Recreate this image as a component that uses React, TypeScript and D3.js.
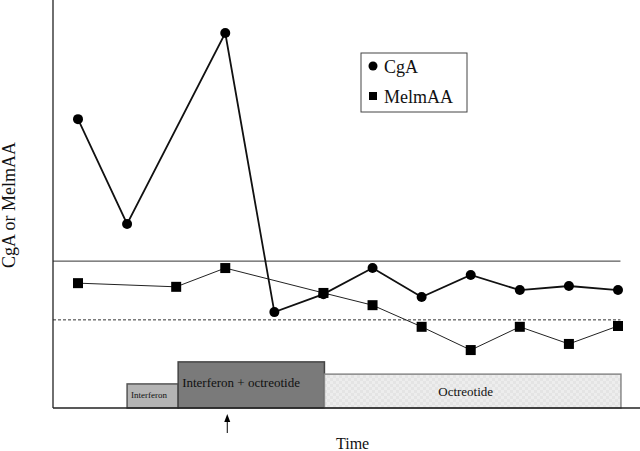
import React from "react";
import * as d3 from "d3";

const timePoints = [0, 1, 2, 3, 4, 5, 6, 7, 8, 9, 10, 11];
const cgaValues: (number | null)[] = [70.8, 45.1, null, 91.9, 23.5, 27.9, 34.3, 27.2, 32.6, 28.9, 29.9, 28.9];
const melmaaValues: (number | null)[] = [30.6, null, 29.7, 34.3, null, 28.2, 25.2, 19.9, 14.2, 19.9, 15.7, 20.1];
const upperRef = 36.0;
const lowerRef = 21.6;
const treatments = [
  { label: "Interferon", start: 1, end: 2.04, height: 5.9 },
  { label: "Interferon + octreotide", start: 2.04, end: 5.02, height: 11.3 },
  { label: "Octreotide", start: 5.02, end: 11.06, height: 8.3 },
];
const arrowAt = 3;
const legendLabels = ["CgA", "MelmAA"];
const xTitle = "Time";
const yTitle = "CgA or MelmAA";

const W = 640;
const H = 451;
const axisLeft = 53;
const axisBottom = 408;

export default function App() {
  const x = d3.scaleLinear().domain([0, 11]).range([78, 618]);
  const y = d3.scaleLinear().domain([0, 100]).range([axisBottom, 0]);

  const line = d3
    .line<[number, number | null]>()
    .defined((d) => d[1] !== null)
    .x((d) => x(d[0]))
    .y((d) => y(d[1] as number));

  const cgaPts = timePoints.map((t, i) => [t, cgaValues[i]] as [number, number | null]).filter((d) => d[1] !== null);
  const melPts = timePoints.map((t, i) => [t, melmaaValues[i]] as [number, number | null]).filter((d) => d[1] !== null);

  const fills = ["#b4b4b4", "#7a7a7a", "url(#checker)"];
  const strokes = ["#555", "#444", "#888"];
  const fontSizes = [9, 13, 13];
  const serif = "'Liberation Serif', 'Times New Roman', serif";

  return (
    <svg width={W} height={H} style={{ position: "absolute", left: 0, top: 0, background: "#fff" }} fontFamily={serif}>
      <defs>
        <pattern id="checker" width="6" height="6" patternUnits="userSpaceOnUse">
          <rect width="6" height="6" fill="#ededed" />
          <rect width="3" height="3" fill="#e4e4e4" />
          <rect x="3" y="3" width="3" height="3" fill="#e4e4e4" />
        </pattern>
      </defs>
      <rect width={W} height={H} fill="#fff" />

      {/* treatment bars */}
      {treatments.map((t, i) => (
        <g key={t.label}>
          <rect
            x={x(t.start)}
            y={y(t.height)}
            width={x(t.end) - x(t.start)}
            height={axisBottom - y(t.height)}
            fill={fills[i]}
            stroke={strokes[i]}
            strokeWidth={1.5}
          />
          <text
            x={i === 0 ? x(t.start) + 4 : i === 1 ? x(t.start) + 4 : (x(t.start) + x(t.end)) / 2 - 7}
            y={i === 0 ? axisBottom - 10 : i === 1 ? y(t.height) + 25 : (y(t.height) + axisBottom) / 2 + 5}
            fontSize={fontSizes[i]}
            textAnchor={i === 2 ? "middle" : "start"}
            fill="#111"
          >
            {t.label}
          </text>
        </g>
      ))}

      {/* reference lines */}
      <line x1={axisLeft} x2={x(11.05)} y1={y(upperRef)} y2={y(upperRef)} stroke="#333" strokeWidth={1} />
      <line x1={axisLeft} x2={x(11.05)} y1={y(lowerRef)} y2={y(lowerRef)} stroke="#333" strokeWidth={1} strokeDasharray="3,2" />

      {/* axes */}
      <line x1={axisLeft} x2={axisLeft} y1={0} y2={axisBottom} stroke="#222" strokeWidth={1.3} />
      <line x1={axisLeft} x2={W} y1={axisBottom} y2={axisBottom} stroke="#222" strokeWidth={1.3} />

      {/* series */}
      <path d={line(melPts) || ""} fill="none" stroke="#222" strokeWidth={1} />
      <path d={line(cgaPts) || ""} fill="none" stroke="#111" strokeWidth={1.8} />
      {melPts.map((d, i) => (
        <rect key={"m" + i} x={x(d[0]) - 5} y={y(d[1] as number) - 5} width={10} height={10} fill="#000" />
      ))}
      {cgaPts.map((d, i) => (
        <circle key={"c" + i} cx={x(d[0])} cy={y(d[1] as number)} r={5} fill="#000" />
      ))}

      {/* legend */}
      <rect x={361} y={53} width={106} height={59} fill="#fff" stroke="#444" strokeWidth={1} />
      <circle cx={373} cy={66} r={4.5} fill="#000" />
      <text x={384} y={73} fontSize={18} fill="#111">{legendLabels[0]}</text>
      <rect x={369} y={92} width={8} height={8} fill="#000" />
      <text x={384} y={103} fontSize={18} fill="#111">{legendLabels[1]}</text>

      {/* arrow */}
      <line x1={x(arrowAt) + 2} x2={x(arrowAt) + 2} y1={433} y2={419} stroke="#000" strokeWidth={1} />
      <path d={`M${x(arrowAt) + 2},414 L${x(arrowAt) - 1},422 L${x(arrowAt) + 5},422 Z`} fill="#000" />

      {/* axis titles */}
      <text x={336} y={449} fontSize={16} fill="#111">{xTitle}</text>
      <text transform={`translate(15,205) rotate(-90)`} fontSize={18} textAnchor="middle" fill="#111">{yTitle}</text>
    </svg>
  );
}
